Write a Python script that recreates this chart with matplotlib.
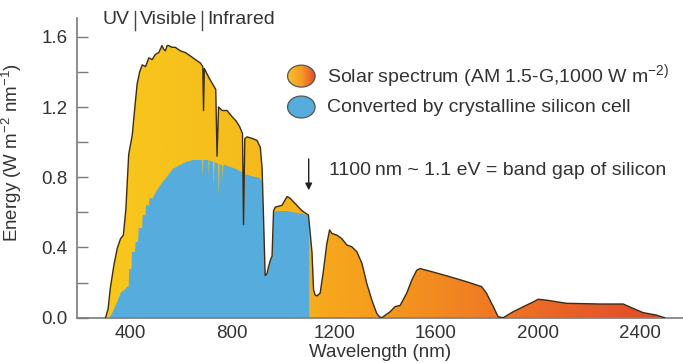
import numpy as np
import matplotlib.pyplot as plt
from matplotlib.colors import LinearSegmentedColormap
from matplotlib.patches import Ellipse, Polygon
from matplotlib.lines import Line2D

plt.rcParams['font.family'] = ['Liberation Sans', 'DejaVu Sans']
plt.rcParams['mathtext.fontset'] = 'custom'
plt.rcParams['mathtext.rm'] = 'Liberation Sans'
plt.rcParams['mathtext.it'] = 'Liberation Sans:italic'
plt.rcParams['mathtext.default'] = 'regular'

# solar spectrum AM 1.5-G
solar_nm = [302, 312, 321, 335, 348, 361, 372, 382, 393, 407, 416, 426, 436, 446, 459, 472,
            485, 498, 511, 524, 530, 537, 544, 550, 563, 576, 596, 616, 636, 655, 675, 684,
            687, 690, 707, 735, 740, 746, 760, 779, 799, 815, 828, 840, 844, 849, 858, 880,
            897, 910, 917, 923, 929, 936, 942, 950, 956, 962, 969, 995, 1015, 1027, 1047, 1073,
            1093, 1099, 1106, 1113, 1119, 1125, 1132, 1145, 1158, 1171, 1182, 1191, 1211, 1230,
            1250, 1269, 1289, 1309, 1328, 1348, 1367, 1378, 1387, 1420, 1439, 1459, 1485, 1505,
            1524, 1537, 1589, 1655, 1720, 1779, 1798, 1825, 1844, 1864, 1903, 1956, 1982, 2001,
            2034, 2112, 2243, 2335, 2374, 2413, 2465, 2498]
solar_e = [0.00, 0.05, 0.17, 0.30, 0.395, 0.45, 0.47, 0.62, 0.93, 1.04, 1.18, 1.33, 1.40, 1.44, 1.43, 1.48,
           1.47, 1.50, 1.51, 1.55, 1.53, 1.52, 1.55, 1.55, 1.54, 1.54, 1.52, 1.51, 1.49, 1.47, 1.45, 1.43,
           1.18, 1.42, 1.37, 1.30, 0.92, 1.20, 1.18, 1.18, 1.145, 1.12, 1.09, 1.05, 0.53, 1.02, 1.03, 1.02,
           1.01, 0.97, 0.85, 0.55, 0.24, 0.25, 0.29, 0.33, 0.35, 0.61, 0.63, 0.64, 0.69, 0.68, 0.65, 0.61,
           0.59, 0.585, 0.48, 0.37, 0.16, 0.13, 0.124, 0.14, 0.27, 0.42, 0.50, 0.48, 0.47, 0.45,
           0.414, 0.404, 0.376, 0.31, 0.196, 0.10, 0.025, 0.005, 0.0, 0.034, 0.063, 0.07, 0.14, 0.215,
           0.27, 0.28, 0.26, 0.233, 0.205, 0.177, 0.14, 0.063, 0.005, 0.0, 0.034, 0.072, 0.09, 0.105,
           0.10, 0.082, 0.078, 0.078, 0.053, 0.029, 0.015, 0.0]

# part converted by a crystalline silicon cell
si_nm = [315, 328, 345, 361, 375, 385, 391, 393, 402, 404, 416, 418, 428, 430, 444, 446, 457,
         459, 470, 472, 484, 498, 524, 544, 564, 589, 616, 642, 668, 680, 682, 684, 694, 704, 706,
         708, 722, 725, 728, 742, 745, 748, 758, 760, 762, 774, 813, 838, 843, 844, 845, 849, 871,
         904, 910, 917, 923, 929, 936, 942, 950, 956, 962, 969, 995, 1015, 1047, 1073, 1099, 1100]
si_e = [0.0, 0.034, 0.09, 0.148, 0.16, 0.18, 0.18, 0.28, 0.28, 0.376, 0.376, 0.433, 0.433, 0.51, 0.51,
        0.585, 0.585, 0.64, 0.64, 0.68, 0.68, 0.72, 0.775, 0.81, 0.85, 0.87, 0.89, 0.90, 0.90, 0.90,
        0.80, 0.90, 0.90, 0.90, 0.80, 0.90, 0.89, 0.75, 0.89, 0.88, 0.69, 0.88, 0.87, 0.78, 0.87,
        0.87, 0.85, 0.83, 0.83, 0.53, 0.82, 0.82, 0.81, 0.80, 0.79, 0.78, 0.55, 0.24, 0.25, 0.29,
        0.33, 0.35, 0.60, 0.61, 0.61, 0.61, 0.60, 0.595, 0.58, 0.0]

# colour of the solar fill along the wavelength axis
grad_nm = [300, 800, 1050, 1150, 1300, 1600, 1900, 2100, 2500]
grad_col = ['#F8C71C', '#F6BE1C', '#F5B31E', '#F7A81D', '#F6A01D', '#F28A21', '#EE7325',
            '#EA6227', '#DF4A2B']

x_ticks = [400, 800, 1200, 1600, 2000, 2400]
y_ticks = [0.0, 0.4, 0.8, 1.2, 1.6]
y_minor = [0.2, 0.6, 1.0, 1.4]

blue = '#56ACDC'
text_col = '#333333'
axis_col = '#7a7a7a'

fig = plt.figure(figsize=(6.83, 3.63), dpi=100)
ax = fig.add_axes([77 / 683, 1 - 317.7 / 363, (683 - 77) / 683, (317.7 - 18) / 363])

# solar spectrum: gradient clipped to its outline
verts = np.column_stack([np.r_[solar_nm[0], solar_nm, solar_nm[-1]], np.r_[0, solar_e, 0]])
poly = Polygon(verts, closed=True, facecolor='none', edgecolor='none')
ax.add_patch(poly)
pos = [(n - grad_nm[0]) / (grad_nm[-1] - grad_nm[0]) for n in grad_nm]
cmap = LinearSegmentedColormap.from_list('sun', list(zip(pos, grad_col)))
grad = np.linspace(0, 1, 512).reshape(1, -1)
im = ax.imshow(grad, extent=[grad_nm[0], grad_nm[-1], 0, 1.7], aspect='auto', cmap=cmap,
               origin='lower', zorder=1, interpolation='bilinear')
im.set_clip_path(poly)

fb = ax.fill_between(si_nm, si_e, 0, color=blue, lw=0, zorder=2)
fb.set_clip_path(poly)
ax.plot(solar_nm, solar_e, color='#3b2d17', lw=1.0, zorder=3)

# axes styling
for s in ['top', 'right']:
    ax.spines[s].set_visible(False)
for s in ['left', 'bottom']:
    ax.spines[s].set_color(axis_col)
    ax.spines[s].set_linewidth(1.2)
ax.set_xticks(x_ticks)
ax.set_yticks(y_ticks)
ax.set_yticks(y_minor, minor=True)
ax.set_yticklabels(['%.1f' % v for v in y_ticks])
ax.tick_params(axis='x', length=0, pad=5, labelsize=13.5, labelcolor=text_col)
ax.tick_params(axis='y', which='both', direction='in', length=8, width=1, color=axis_col,
               pad=7, labelsize=13.5, labelcolor=text_col)
ax.set_xlabel('Wavelength (nm)', fontsize=13.5, color=text_col)
ax.xaxis.set_label_coords(0.5, -0.088)
ax.set_ylabel('Energy (W m$^{-2}$ nm$^{-1}$)', fontsize=13.5, color=text_col)
ax.yaxis.set_label_coords(-0.088, 0.55)

# header
hy = 1 - 19 / 363
fig.text(103 / 683, hy, 'UV', fontsize=14, color=text_col, va='center')
fig.text(140 / 683, hy, 'Visible', fontsize=14, color=text_col, va='center')
fig.text(207 / 683, hy, 'Infrared', fontsize=14, color=text_col, va='center')
for bx in [135, 202]:
    fig.add_artist(Line2D([bx / 683, bx / 683], [1 - 11 / 363, 1 - 30 / 363],
                          transform=fig.transFigure, color='#444444', lw=1))

# legend
ell_w, ell_h = 108, 0.125
e1 = Ellipse((1071, 1.376), ell_w, ell_h, facecolor='none', edgecolor='#555555', lw=0.9, zorder=5)
ax.add_patch(e1)
leg_cmap = LinearSegmentedColormap.from_list('leg', ['#F7C02A', '#F39A25', '#E8452A'])
im2 = ax.imshow(grad, extent=[1071 - ell_w / 2, 1071 + ell_w / 2, 1.376 - ell_h / 2, 1.376 + ell_h / 2],
                aspect='auto', cmap=leg_cmap, origin='lower', zorder=4, interpolation='bilinear')
im2.set_clip_path(e1)
ax.add_patch(Ellipse((1071, 1.20), ell_w, ell_h, facecolor=blue, edgecolor='#555555', lw=0.9, zorder=5))
ax.text(1173, 1.376, 'Solar spectrum (AM 1.5-G,1000 W m$^{-2)}$', fontsize=14, color=text_col,
        va='center')
ax.text(1173, 1.20, 'Converted by crystalline silicon cell', fontsize=14, color=text_col, va='center')

# band gap marker
ax.annotate('', xy=(1100, 0.71), xytext=(1100, 0.92),
            arrowprops=dict(arrowstyle='-|>', color='#222222', lw=1, mutation_scale=10))
ax.text(1180, 0.84, '1100\u2009nm ~ 1.1 eV = band gap of silicon', fontsize=14, color=text_col,
        va='center')

ax.set_xlim(190, 2570)
ax.set_ylim(0, 1.707)
fig.savefig('out.png', dpi=100)
